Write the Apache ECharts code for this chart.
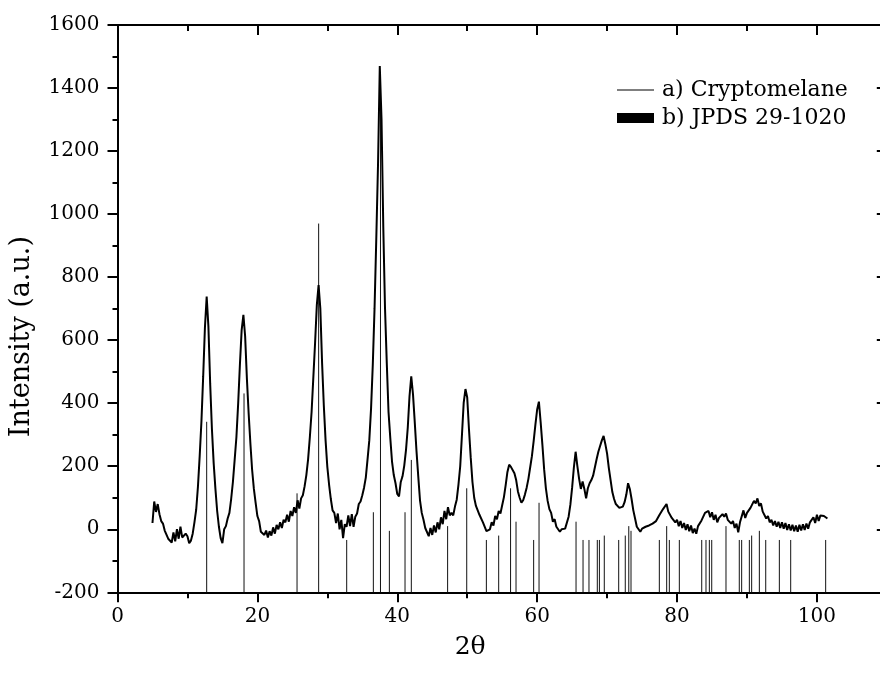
<!DOCTYPE html>
<html>
<head>
<meta charset="utf-8">
<title>XRD pattern</title>
<script src="https://cdn.jsdelivr.net/npm/echarts@6/dist/echarts.min.js"></script>
<style>
  html, body { margin: 0; padding: 0; background: #fff; }
  #chart { width: 880px; height: 684px; }
</style>
</head>
<body>
<div id="chart"></div>
<script>
// Scan settings of the measured pattern (degrees 2θ)
const scanStart = 5.0;
const scanStep = 0.25;

// Measured intensity of cryptomelane, one row per degree (x.00, x.25, x.50, x.75)
const cryptomelane = [
  20, 88, 55, 80,        // 5
  48, 26, 18, -4,        // 6
  -8, -30, -30, -42,     // 7
  -10, -38, 0, -30,      // 8
  8, -26, -20, -14,      // 9
  -22, -44, -36, -14,    // 10
  22, 62, 135, 232,      // 11
  342, 485, 640, 738,    // 12
  642, 462, 318, 210,    // 13
  128, 58, 8, -28,       // 14
  -44, 0, 10, 34,        // 15
  52, 96, 150, 220,      // 16
  292, 398, 522, 632,    // 17
  680, 612, 478, 368,    // 18
  272, 188, 128, 84,     // 19
  42, 26, -8, -10,       // 20
  -18, -4, -26, -6,      // 21
  -20, 6, -14, 14,       // 22
  0, 22, 4, 30,          // 23
  22, 46, 24, 58,        // 24
  42, 70, 52, 92,        // 25
  66, 98, 108, 136,      // 26
  172, 222, 292, 372,    // 27
  482, 592, 712, 775,    // 28
  700, 528, 392, 282,    // 29
  198, 142, 96, 60,      // 30
  52, 20, 50, 0,         // 31
  30, -28, 16, 8,        // 32
  44, 10, 48, 8,         // 33
  40, 50, 80, 88,        // 34
  108, 132, 164, 222,    // 35
  282, 382, 522, 700,    // 36
  922, 1160, 1470, 1300, // 37
  960, 700, 528, 372,    // 38
  290, 215, 172, 146,    // 39
  112, 104, 150, 168,    // 40
  202, 252, 322, 422,    // 41
  485, 428, 340, 248,    // 42
  168, 92, 52, 30,       // 43
  4, 0, -22, 4,          // 44
  -18, 12, -10, 22,      // 45
  0, 38, 16, 58,         // 46
  32, 70, 44, 52,        // 47
  44, 72, 94, 142,       // 48
  200, 300, 402, 445,    // 49
  418, 318, 228, 150,    // 50
  100, 74, 60, 46,       // 51
  46, 22, 20, -6,        // 52
  -4, 0, 22, 12,         // 53
  42, 32, 58, 50,        // 54
  76, 102, 140, 182,     // 55
  205, 198, 196, 178,    // 56
  156, 120, 100, 84,     // 57
  92, 110, 132, 160,     // 58
  196, 232, 280, 332,    // 59
  380, 405, 340, 268,    // 60
  190, 130, 90, 64,      // 61
  52, 24, 32, 8,         // 62
  12, -8, 0, -6,         // 63
  2, 8, 40, 78,          // 64
  132, 196, 246, 200,    // 65
  160, 128, 152, 128,    // 66
  98, 130, 146, 156,     // 67
  170, 196, 222, 246,    // 68
  264, 282, 296, 270,    // 69
  240, 194, 156, 118,    // 70
  96, 80, 74, 68,        // 71
  64, 72, 86, 110,       // 72
  146, 128, 96, 60,      // 73
  34, 8, 12, -8,         // 74
  2, -4, 8, 2,           // 75
  12, 8, 18, 12,         // 76
  26, 24, 46, 44,        // 77
  64, 60, 80, 56,        // 78
  62, 36, 40, 22,        // 79
  30, 10, 26, 4,         // 80
  20, -2, 16, -6,        // 81
  12, -12, 2, -14,       // 82
  10, 6, 28, 28,         // 83
  52, 48, 58, 38,        // 84
  54, 30, 46, 22,        // 85
  36, 32, 48, 40,        // 86
  50, 30, 36, 18,        // 87
  26, 4, 18, -10,        // 88
  22, 26, 60, 36,        // 89
  52, 48, 68, 72,        // 90
  90, 82, 98, 74,        // 91
  82, 56, 56, 34,        // 92
  42, 22, 30, 12,        // 93
  26, 8, 24, 4,          // 94
  22, 2, 20, -2,         // 95
  16, -4, 14, -6,        // 96
  12, -8, 14, -4,        // 97
  16, -2, 18, 2,         // 98
  22, 18, 38, 20,        // 99
  46, 26, 44, 38,        // 100
  42, 36, 34             // 101
];

// Reference card JPDS 29-1020: line positions (2θ) and drawn heights
const refPositions = [
  12.75, 18.09, 25.67, 28.76, 32.77, 36.58, 37.6, 38.87, 41.11, 42.01,
  47.2, 49.93, 52.74, 54.5, 56.2, 56.98, 59.5, 60.27, 65.56, 66.56,
  67.41, 68.6, 68.9, 69.6, 71.66, 72.6, 73.1, 73.42, 77.47, 78.52,
  78.9, 80.33, 83.53, 84.14, 84.62, 84.96, 87.0, 88.9, 89.24, 90.34,
  90.67, 91.77, 92.68, 94.63, 96.25, 101.25
];
const refHeights = [
  341, 431, 114, 970, -34, 54, 1380, -5, 54, 220,
  10, 130, -34, -20, 130, 24, -34, 84, 24, -34,
  -34, -34, -34, -20, -34, -20, 10, -5, -34, 10,
  -34, -34, -34, -34, -34, -34, 10, -34, -34, -34,
  -20, -5, -34, -34, -34, -34
];

const seriesNames = ['a) Cryptomelane', 'b) JPDS 29-1020'];
const xTitle = '2θ';
const yTitle = 'Intensity (a.u.)';
const xRange = [0, 120];
const xStep = 20;
const yRange = [-200, 1600];
const yStep = 200;

const FONT = 'DejaVu Serif';

const measured = cryptomelane.map((v, i) => [+(scanStart + i * scanStep).toFixed(2), v]);
const reference = refPositions.map((p, i) => [p, refHeights[i]]);

const chart = echarts.init(document.getElementById('chart'), null, { renderer: 'canvas' });

const axisLine = { show: true, onZero: false, lineStyle: { color: '#000', width: 2 } };
const tickStyle = { color: '#000', width: 2 };

chart.setOption({
  animation: false,
  backgroundColor: '#fff',
  grid: {
    left: 117.5, top: 25, width: 839.3, height: 567.3,
    containLabel: false,
    outerBoundsMode: 'none'
  },
  legend: {
    orient: 'vertical',
    left: 612,
    top: 74,
    itemGap: 6,
    itemWidth: 37,
    itemHeight: 10,
    textStyle: { fontFamily: FONT, fontSize: 22, color: '#000', padding: [0, 0, 0, 3] },
    data: [
      { name: seriesNames[0], icon: 'path://M0,0h38v1.2h-38z', itemStyle: { color: '#000' } },
      { name: seriesNames[1], icon: 'rect', itemStyle: { color: '#000' } }
    ]
  },
  xAxis: [
    {
      type: 'value', position: 'bottom', min: xRange[0], max: xRange[1], interval: xStep,
      axisLine: axisLine,
      axisTick: { show: true, inside: false, length: 10, lineStyle: tickStyle },
      minorTick: { show: true, splitNumber: 2, length: 6, lineStyle: tickStyle },
      splitLine: { show: false },
      axisLabel: { fontFamily: FONT, fontSize: 20, color: '#000', margin: 14, showMaxLabel: false },
      name: xTitle, nameLocation: 'middle', nameGap: 43,
      nameTextStyle: { fontFamily: FONT, fontSize: 25, color: '#000', padding: [0, 134, 0, 0] }
    },
    {
      type: 'value', position: 'top', min: xRange[0], max: xRange[1], interval: xStep,
      axisLine: axisLine,
      axisTick: { show: true, inside: true, length: 10, lineStyle: tickStyle },
      minorTick: { show: true, splitNumber: 2, length: 6, lineStyle: tickStyle },
      splitLine: { show: false },
      axisLabel: { show: false }
    }
  ],
  yAxis: [
    {
      type: 'value', position: 'left', min: yRange[0], max: yRange[1], interval: yStep,
      axisLine: axisLine,
      axisTick: { show: true, inside: false, length: 10, lineStyle: tickStyle },
      minorTick: { show: true, splitNumber: 2, length: 5, lineStyle: tickStyle },
      splitLine: { show: false },
      axisLabel: {
        fontFamily: FONT, fontSize: 20, color: '#000', margin: 18,
        formatter: function (v) { return String(v); }
      },
      name: yTitle, nameLocation: 'middle', nameGap: 82,
      nameTextStyle: { fontFamily: FONT, fontSize: 27, color: '#000', padding: [0, 56, 0, 0] }
    },
    {
      type: 'value', position: 'right', offset: -70, min: yRange[0], max: yRange[1], interval: yStep,
      axisLine: axisLine,
      axisTick: { show: true, inside: true, length: 10, lineStyle: tickStyle },
      minorTick: { show: true, splitNumber: 2, length: 5, lineStyle: tickStyle },
      splitLine: { show: false },
      axisLabel: { show: false }
    }
  ],
  series: [
    {
      name: seriesNames[0],
      type: 'line',
      xAxisIndex: 0, yAxisIndex: 0,
      data: measured,
      showSymbol: false,
      symbol: 'none',
      lineStyle: { color: '#000', width: 2 },
      itemStyle: { color: '#000' },
      z: 3
    },
    {
      name: seriesNames[1],
      type: 'custom',
      xAxisIndex: 0, yAxisIndex: 0,
      data: reference,
      itemStyle: { color: '#000' },
      encode: { x: 0, y: 1 },
      renderItem: function (params, api) {
        const top = api.coord([api.value(0), api.value(1)]);
        const base = api.coord([api.value(0), yRange[0]]);
        return {
          type: 'line',
          shape: { x1: top[0], y1: top[1], x2: base[0], y2: base[1] },
          style: { stroke: '#111', lineWidth: 1 }
        };
      },
      z: 2
    }
  ]
});
</script>
</body>
</html>
